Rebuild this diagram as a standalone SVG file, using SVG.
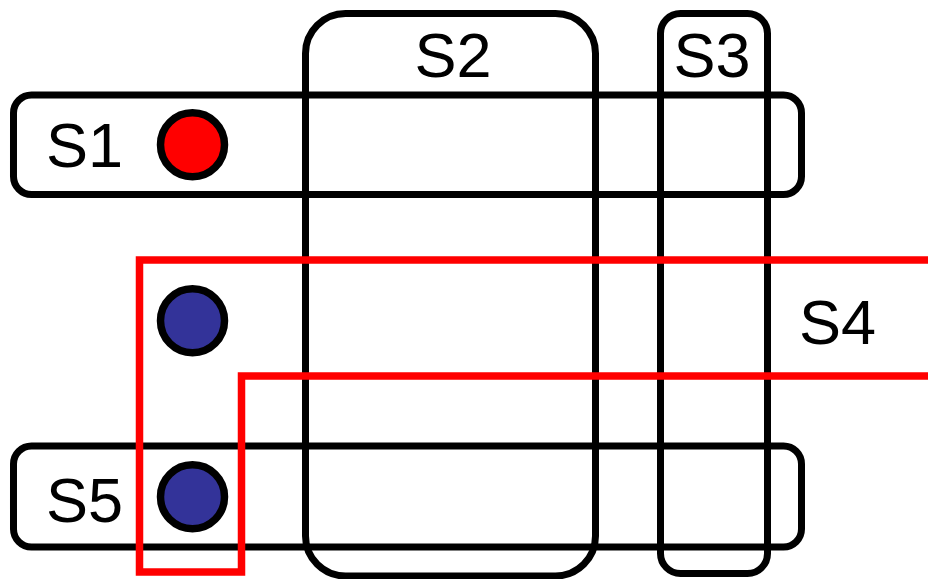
<svg xmlns="http://www.w3.org/2000/svg" width="928" height="579" viewBox="0 0 928 579">
<style>
.box{fill:none;stroke:#000;stroke-width:7}
.lbl{font-family:"Liberation Sans",Arial,sans-serif;font-size:63px;fill:#000}
.dot{stroke:#000;stroke-width:7.5}
</style>
<rect width="928" height="579" fill="#fff"/>
<g id="S1">
<rect class="box" x="13.5" y="95" width="788" height="99.5" rx="18"/>
<text class="lbl" x="46" y="167">S1</text>
</g>
<g id="S5">
<rect class="box" x="13.5" y="446" width="788" height="101" rx="18"/>
<text class="lbl" x="46" y="522">S5</text>
</g>
<g id="S2">
<rect class="box" x="305.5" y="13.5" width="290" height="562.5" rx="40"/>
<text class="lbl" x="453" y="77" text-anchor="middle">S2</text>
</g>
<g id="S3">
<rect class="box" x="660.5" y="13.5" width="107" height="560" rx="20"/>
<text class="lbl" x="712" y="77" text-anchor="middle">S3</text>
</g>
<g id="n1"><circle class="dot" cx="192.5" cy="144.7" r="32" fill="#ff0000"/></g>
<g id="n2"><circle class="dot" cx="192.5" cy="320.8" r="32" fill="#333399"/></g>
<g id="n3"><circle class="dot" cx="192.5" cy="496.7" r="32" fill="#333399"/></g>
<g id="S4">
<path d="M935,260 H139.5 V572 H241.5 V376 H935" fill="none" stroke="#ff0000" stroke-width="7.5"/>
<text class="lbl" x="799" y="344">S4</text>
</g>
</svg>
